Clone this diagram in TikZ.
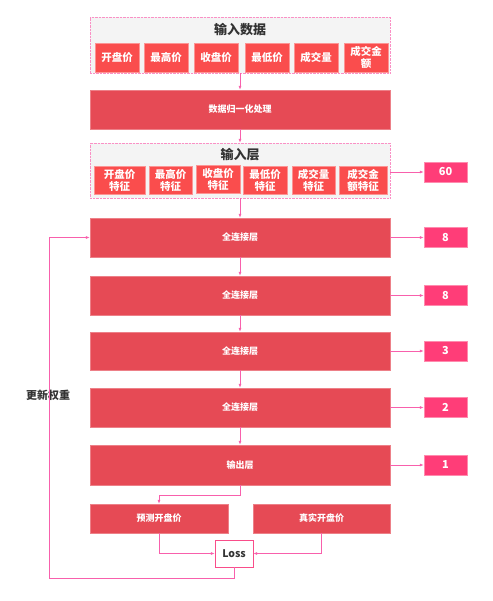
\documentclass[tikz,border=0pt]{standalone}
\usepackage{fontspec}
\newfontfamily\cjk{Noto Sans CJK SC}
\usepackage{tikz}
\usetikzlibrary{arrows.meta, positioning, calc}
\usepackage{xcolor}
\definecolor{layerred}{HTML}{E64A55}
\definecolor{cellred}{HTML}{FA4D4D}
\definecolor{sizepink}{HTML}{FF3D78}
\definecolor{linkpink}{HTML}{F860AC}
\definecolor{framegray}{HTML}{F4F4F4}
\definecolor{titlegray}{HTML}{333333}
\tikzstyle{layer} = [%
  rectangle,
  draw=layerred!70!white,
  fill=layerred,
  minimum width=300pt,
  minimum height=39pt,
  text=white,
  inner sep=0pt,
  font=\cjk\bfseries\fontsize{9}{10}\selectfont
]
\tikzstyle{cell} = [%
  rectangle,
  draw=cellred!60!white,
  fill=cellred,
  minimum width=44pt,
  minimum height=29pt,
  align=center,
  text=white,
  inner sep=0pt,
  font=\cjk\bfseries\fontsize{10.5}{12}\selectfont
]
\tikzstyle{sizebox} = [%
  rectangle,
  draw=sizepink!60!white,
  fill=sizepink,
  minimum width=43pt,
  minimum height=20pt,
  text=white,
  inner sep=0pt,
  font=\cjk\bfseries\fontsize{11}{12}\selectfont
]

\begin{document}
\begin{tikzpicture}[%
  x=1pt, y=-1pt,
  >={Latex[length=4pt,width=3pt]},
  link/.style={->, draw=linkpink, line width=0.7pt},
  frame/.style={draw=linkpink!70!white, densely dotted, fill=framegray,
    minimum width=300pt, inner sep=0pt},
  title/.style={text=titlegray, font=\cjk\bfseries\fontsize{13}{14}\selectfont}
]
  \useasboundingbox (0,0) rectangle (492,601);

  % Input data frame
  \node[frame, minimum height=56pt] (rawframe) at (240,45) {};
  \node[title] (rawtitle) at (240,30) {输入数据};
  \node[cell] (raw1) at (117,57.5) {开盘价};
  \node[cell] (raw2) at (166,57.5) {最高价};
  \node[cell] (raw3) at (216,57.5) {收盘价};
  \node[cell] (raw4) at (267,57.5) {最低价};
  \node[cell] (raw5) at (316,57.5) {成交量};
  \node[cell] (raw6) at (366,57.5) {成交金\\额};

  % Normalisation
  \node[layer] (norm) at (240,109.5) {数据归一化处理};

  % Input layer frame
  \node[frame, minimum height=55pt] (inframe) at (240,170.5) {};
  \node[title] (intitle) at (240,155) {输入层};
  \node[cell, minimum width=51pt, minimum height=28pt] (in1) at (119.5,180) {开盘价\\特征};
  \node[cell, minimum width=43pt, minimum height=28pt] (in2) at (170.5,180) {最高价\\特征};
  \node[cell, minimum width=44pt, minimum height=28pt] (in3) at (218,179) {收盘价\\特征};
  \node[cell, minimum width=44pt, minimum height=28pt] (in4) at (265,180) {最低价\\特征};
  \node[cell, minimum width=43pt, minimum height=28pt] (in5) at (313.5,180) {成交量\\特征};
  \node[cell, minimum width=48pt, minimum height=28pt] (in6) at (363,180) {成交金\\额特征};

  % Hidden and output layers
  \node[layer] (fc1) at (240,237.5) {全连接层};
  \node[layer] (fc2) at (240,295.5) {全连接层};
  \node[layer, minimum height=38pt] (fc3) at (240,351) {全连接层};
  \node[layer] (fc4) at (240,407.5) {全连接层};
  \node[layer, minimum height=40pt] (outl) at (240,465) {输出层};

  % Sizes
  \node[sizebox] (s0) at (445.5,172) {60};
  \node[sizebox] (s1) at (445.5,237.5) {8};
  \node[sizebox] (s2) at (445.5,295.5) {8};
  \node[sizebox] (s3) at (445.5,351) {3};
  \node[sizebox] (s4) at (445.5,407.5) {2};
  \node[sizebox] (s5) at (445.5,465) {1};

  % Loss part
  \node[layer, minimum width=138pt, minimum height=29pt] (pred) at (159,518.5) {预测开盘价};
  \node[layer, minimum width=137pt, minimum height=29pt] (real) at (321.5,518.5) {真实开盘价};
  \node[rectangle, draw=linkpink!80!red, fill=white, minimum width=38pt,
    minimum height=27pt, inner sep=0pt, text=titlegray,
    font=\cjk\bfseries\fontsize{10.5}{12}\selectfont] (loss) at (234,553.5) {Loss};
  \node[title, font=\cjk\bfseries\fontsize{11}{12}\selectfont] (upd) at (48,395) {更新权重};
  \coordinate (back) at (49,578);

  % Main flow
  \draw[link] (rawframe.south) -- (norm.north);
  \draw[link] (norm.south) -- (inframe.north);
  \draw[link] (inframe.south) -- (fc1.north);
  \draw[link] (fc1) -- (fc2);
  \draw[link] (fc2) -- (fc3);
  \draw[link] (fc3) -- (fc4);
  \draw[link] (fc4) -- (outl);
  \draw[link] (outl.south) -- ++(0,10) -| (pred.north);
  \draw[link] (pred.south) |- (loss.west);
  \draw[link] (real.south) |- (loss.east);
  \draw[link] (loss.south) |- (back) |- (fc1.west);

  % Size edges
  \draw[link] (inframe.east |- s0) -- (s0.west);
  \draw[link] (fc1.east |- s1) -- (s1.west);
  \draw[link] (fc2.east |- s2) -- (s2.west);
  \draw[link] (fc3.east |- s3) -- (s3.west);
  \draw[link] (fc4.east |- s4) -- (s4.west);
  \draw[link] (outl.east |- s5) -- (s5.west);

\end{tikzpicture}
\end{document}
